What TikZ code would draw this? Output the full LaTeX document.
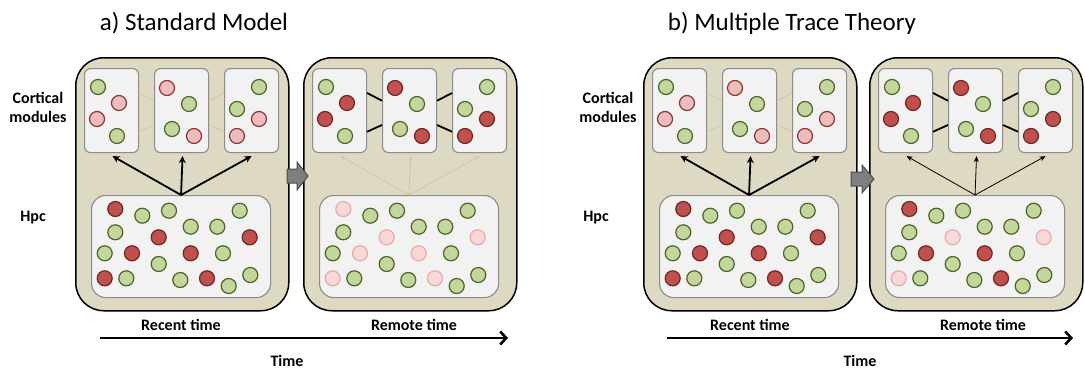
\documentclass[tikz,border=0pt]{standalone}
\usepackage{fontspec}
\setmainfont{Carlito}
\usetikzlibrary{arrows.meta,calc}
\definecolor{tanbg}{HTML}{DDD9C3}
\definecolor{boxbg}{HTML}{F2F2F2}
\definecolor{boxln}{HTML}{8C8C8C}
\definecolor{gfill}{HTML}{C3D69B}
\definecolor{gline}{HTML}{4F6228}
\definecolor{rfill}{HTML}{C0504D}
\definecolor{rline}{HTML}{6E2725}
\definecolor{pfill}{HTML}{EDBDBD}
\definecolor{pline}{HTML}{8E3533}
\definecolor{qfill}{HTML}{F7D9D9}
\definecolor{qline}{HTML}{E8A9A9}
\definecolor{faint}{HTML}{CFC6A0}
\definecolor{garrow}{HTML}{7F7F7F}
\tikzset{
  panelbox/.style={draw=black, line width=1.5pt, fill=tanbg, rounded corners=28pt,
    minimum width=213pt, minimum height=253pt, inner sep=0pt, anchor=north west},
  modbox/.style={draw=boxln, line width=1.1pt, fill=boxbg, rounded corners=6pt,
    minimum width=54pt, minimum height=84pt, inner sep=0pt, anchor=north west},
  hpcbox/.style={draw=boxln, line width=1.1pt, fill=boxbg, rounded corners=14pt,
    minimum width=179pt, minimum height=102pt, inner sep=0pt, anchor=north west},
  dot/.style={circle, inner sep=0pt, minimum size=15pt, line width=1.2pt},
  gc/.style={dot, fill=gfill, draw=gline},
  rc/.style={dot, fill=rfill, draw=rline},
  pc/.style={dot, fill=pfill, draw=pline},
  qc/.style={dot, fill=qfill, draw=qline},
  strongarr/.style={line width=1.8pt, -{Stealth[length=7pt,width=7pt]}},
  faintarr/.style={line width=0.8pt, draw=faint, -{Stealth[length=5pt,width=4pt]}},
  thinarr/.style={line width=0.8pt, -{Stealth[length=6pt,width=5pt]}},
  stronglink/.style={line width=1.8pt},
  faintlink/.style={line width=0.8pt, draw=faint},
  grayarr/.style={draw=black!70, line width=1pt, fill=garrow},
  title/.style={font=\fontsize{25}{28}\selectfont, anchor=base},
  lab/.style={font=\fontsize{16}{19}\selectfont\bfseries, align=center},
  timearr/.style={line width=2.6pt, -{Straight Barb[length=6pt,width=13pt]}},
}
% #1 name, #2 x, #3 module dot style, #4 arrow style, #5 link style
\newcommand\drawpanel[5]{%
  \node[panelbox] (#1) at (#2,57) {};
  \node[modbox] (#1m1) at (#2+9,68) {};
  \node[modbox] (#1m2) at (#2+79,68) {};
  \node[modbox] (#1m3) at (#2+149,68) {};
  \node[hpcbox] (#1h) at (#2+16,195) {};
  % module 1
  \node[gc] (#1a1) at ($(#1m1.north west)+(14,19)$) {};
  \node[#3] (#1a2) at ($(#1m1.north west)+(35,35)$) {};
  \node[#3] (#1a3) at ($(#1m1.north west)+(13,51)$) {};
  \node[gc] (#1a4) at ($(#1m1.north west)+(33,68)$) {};
  % module 2
  \node[#3] (#1b1) at ($(#1m2.north west)+(13,20)$) {};
  \node[gc] (#1b2) at ($(#1m2.north west)+(35,36)$) {};
  \node[gc] (#1b3) at ($(#1m2.north west)+(18,61)$) {};
  \node[#3] (#1b4) at ($(#1m2.north west)+(40,68)$) {};
  % module 3
  \node[gc] (#1c1) at ($(#1m3.north west)+(35,19)$) {};
  \node[gc] (#1c2) at ($(#1m3.north west)+(13,41)$) {};
  \node[#3] (#1c3) at ($(#1m3.north west)+(35,51)$) {};
  \node[#3] (#1c4) at ($(#1m3.north west)+(13,68)$) {};
  % links between modules
  \draw[#5] ($(#1m1.north east)+(0,25)$) -- ($(#1m2.north west)+(0,32.7)$);
  \draw[#5] ($(#1m1.north east)+(0,63.7)$) -- ($(#1m2.north west)+(0,57)$);
  \draw[#5] ($(#1m2.north east)+(0,32.7)$) -- ($(#1m3.north west)+(0,25)$);
  \draw[#5] ($(#1m2.north east)+(0,57)$) -- ($(#1m3.north west)+(0,63.7)$);
  % arrows hpc -> modules
  \coordinate (#1hub) at (#1h.north);
  \draw[#4] (#1hub) -- ($(#1m1.south)+(1,3)$);
  \draw[#4] (#1hub) -- ($(#1m2.south)+(1,3)$);
  \draw[#4] (#1hub) -- ($(#1m3.south)+(0,3)$);
}
% #1 name, #2..#8 styles of the seven memory dots
\newcommand\hpcdots[8]{%
  \node[#2] (#1d1) at ($(#1h.north west)+(24.3,14)$) {};
  \node[gc] (#1d2) at ($(#1h.north west)+(51.3,20.7)$) {};
  \node[gc] (#1d3) at ($(#1h.north west)+(78,15.7)$) {};
  \node[gc] (#1d4) at ($(#1h.north west)+(148.7,15.7)$) {};
  \node[gc] (#1d5) at ($(#1h.north west)+(24.3,37.3)$) {};
  \node[#3] (#1d6) at ($(#1h.north west)+(67.7,42.3)$) {};
  \node[gc] (#1d7) at ($(#1h.north west)+(99.7,31.7)$) {};
  \node[gc] (#1d8) at ($(#1h.north west)+(126.3,31.7)$) {};
  \node[#4] (#1d9) at ($(#1h.north west)+(158.7,42.3)$) {};
  \node[gc] (#1d10) at ($(#1h.north west)+(13.7,58.3)$) {};
  \node[#5] (#1d11) at ($(#1h.north west)+(41,58.3)$) {};
  \node[gc] (#1d12) at ($(#1h.north west)+(67.7,69)$) {};
  \node[#6] (#1d13) at ($(#1h.north west)+(99.7,58.3)$) {};
  \node[gc] (#1d14) at ($(#1h.north west)+(132,58.3)$) {};
  \node[#7] (#1d15) at ($(#1h.north west)+(13.7,83.3)$) {};
  \node[gc] (#1d16) at ($(#1h.north west)+(35.3,83.3)$) {};
  \node[gc] (#1d17) at ($(#1h.north west)+(89.3,85)$) {};
  \node[#8] (#1d18) at ($(#1h.north west)+(116,83.3)$) {};
  \node[gc] (#1d19) at ($(#1h.north west)+(137.7,91)$) {};
  \node[gc] (#1d20) at ($(#1h.north west)+(159.3,80)$) {};
}
\begin{document}
\begin{tikzpicture}[x=1pt,y=-1pt]
\useasboundingbox (0,0) rectangle (1085,370);
% titles
\node[title] (ta) at (194,30) {a) Standard Model};
\node[title] (tb) at (792,30) {b) Multiple Trace Theory};
% row labels
\node[lab] (cl1) at (38,107) {Cortical\\modules};
\node[lab] (hl1) at (33,218) {Hpc};
\node[lab] (cl2) at (608,107) {Cortical\\modules};
\node[lab] (hl2) at (596,218) {Hpc};
% panels
\drawpanel{pa}{75}{pc}{strongarr}{faintlink}
\hpcdots{pa}{rc}{rc}{rc}{rc}{rc}{rc}{rc}
\drawpanel{pb}{303}{rc}{faintarr}{stronglink}
\hpcdots{pb}{qc}{qc}{qc}{qc}{qc}{qc}{qc}
\drawpanel{pc}{643}{pc}{strongarr}{faintlink}
\hpcdots{pc}{rc}{rc}{rc}{rc}{rc}{rc}{rc}
\drawpanel{pd}{869}{rc}{thinarr}{stronglink}
\hpcdots{pd}{rc}{qc}{qc}{rc}{rc}{qc}{rc}
% gray transition arrows
\draw[grayarr] (287,169) -- (297,169) -- (297,162) -- (308,176) -- (297,190) -- (297,183) -- (287,183) -- cycle;
\draw[grayarr] (851,172) -- (862,172) -- (862,165) -- (874,179) -- (862,193) -- (862,186) -- (851,186) -- cycle;
% time labels
\node[lab] (rc1) at (181,325) {Recent time};
\node[lab] (rm1) at (414,325) {Remote time};
\node[lab] (rc2) at (750,325) {Recent time};
\node[lab] (rm2) at (983,325) {Remote time};
\coordinate (t1s) at (100,338);
\coordinate (t1e) at (508,338);
\coordinate (t2s) at (667,338);
\coordinate (t2e) at (1073,338);
\draw[timearr] (t1s) -- (t1e);
\draw[timearr] (t2s) -- (t2e);
\node[lab] (tm1) at (287,361) {Time};
\node[lab] (tm2) at (860,361) {Time};
\end{tikzpicture}
\end{document}
